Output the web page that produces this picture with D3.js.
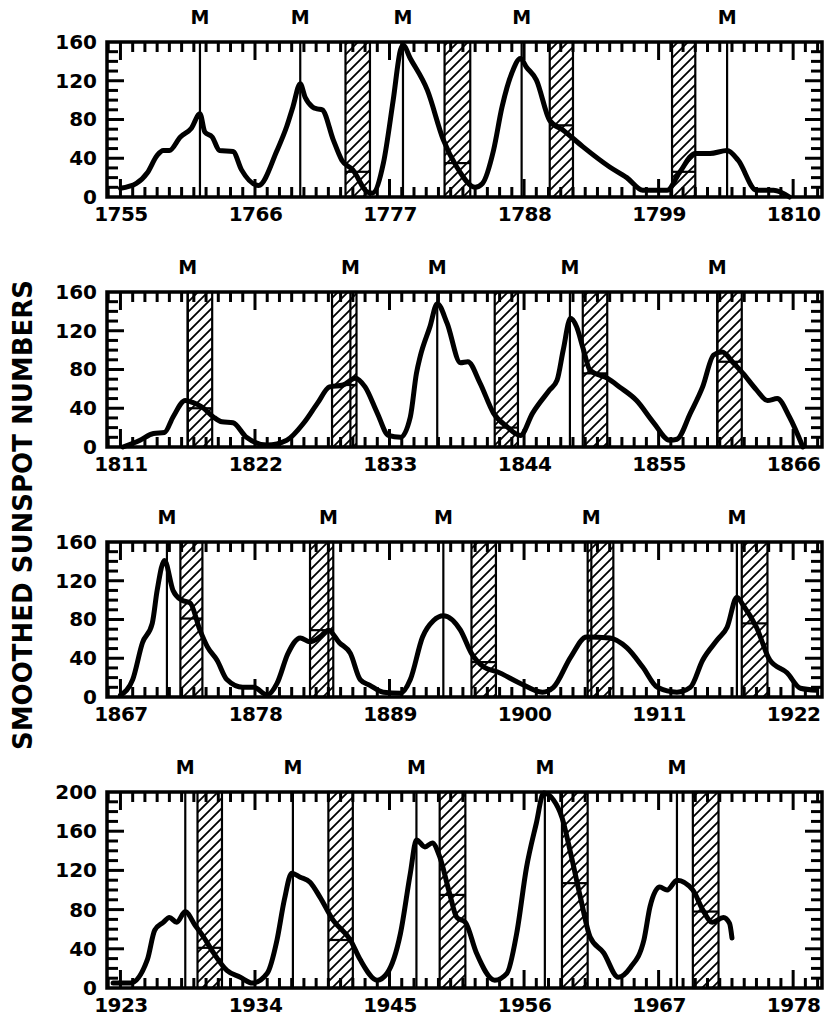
<!DOCTYPE html>
<html>
<head>
<meta charset="utf-8">
<script src="https://cdn.jsdelivr.net/npm/d3@7"></script>
<style>
  body { margin: 0; background: #fff; }
  text { font-family: "DejaVu Sans", sans-serif; font-weight: bold; fill: #000; }
</style>
</head>
<body>
<div id="app"></div>
<script>
// ---- data ----
const panelStarts = [1755, 1811, 1867, 1923];
const yTopValues = [160, 160, 160, 200];

const ssn1755 = [[1755.0,9],[1756.3,14],[1757.2,25],[1758.0,43],[1758.5,48],[1759.0,48],[1759.9,62],[1760.8,71],[1761.5,86],[1761.9,67],[1762.5,62],[1763.1,48],[1764.2,47],[1764.9,28],[1766.3,12],[1767.8,48],[1768.6,73],[1769.1,93],[1769.7,117],[1770.1,103],[1770.7,93],[1771.1,91],[1771.5,90],[1772.4,59],[1773.1,38],[1774.0,28],[1775.2,5],[1775.6,4],[1776.5,35],[1777.3,100],[1777.9,152],[1778.1,157],[1778.7,143],[1780.1,110],[1781.4,59],[1782.5,31],[1784.0,10],[1784.6,14],[1785.5,48],[1786.2,93],[1787.0,128],[1787.7,143],[1788.2,134],[1789.0,121],[1790.1,79],[1791.2,69],[1792.8,52],[1795.0,31],[1796.4,20],[1797.7,7],[1799.7,7],[1800.7,25],[1802.0,45],[1803.2,45],[1804.6,48],[1805.5,38],[1807.0,7],[1808.4,7],[1809.7,0]];
const ssn1811 = [[1811.2,0],[1812.6,7],[1813.7,14],[1814.6,15],[1815.3,31],[1816.3,48],[1816.9,46],[1817.7,41],[1818.6,31],[1819.3,26],[1820.2,25],[1821.3,10],[1823.0,2],[1824.6,7],[1826.0,25],[1827.1,45],[1828.1,62],[1829.2,64],[1830.2,71],[1831.0,62],[1832.0,35],[1832.9,12],[1833.9,10],[1834.7,31],[1835.2,76],[1835.5,93],[1836.3,124],[1836.9,148],[1837.7,128],[1838.8,87],[1839.4,88],[1840.4,66],[1841.5,35],[1842.6,21],[1843.7,12],[1844.7,35],[1846.1,59],[1846.7,69],[1847.2,100],[1847.8,133],[1848.3,124],[1848.8,103],[1849.4,79],[1850.8,71],[1851.8,62],[1853.2,48],[1854.6,25],[1855.9,7],[1856.5,8],[1857.6,35],[1858.6,62],[1859.5,95],[1860.2,98],[1861.1,87],[1861.9,76],[1863.0,59],[1863.9,48],[1864.7,50],[1865.7,31],[1866.8,0]];
const ssn1867 = [[1867.0,2],[1868.0,18],[1868.8,56],[1869.6,76],[1870.0,110],[1870.6,141],[1871.3,110],[1872.0,100],[1872.7,97],[1873.5,69],[1874.1,52],[1874.9,38],[1875.7,18],[1877.0,10],[1877.9,10],[1879.0,2],[1879.8,14],[1880.7,45],[1881.7,61],[1882.5,57],[1883.3,62],[1884.0,69],[1884.9,56],[1885.8,45],[1886.6,18],[1887.4,12],[1888.5,5],[1889.9,4],[1890.7,18],[1891.7,62],[1892.6,79],[1893.4,84],[1894.8,69],[1895.7,45],[1896.7,31],[1897.8,26],[1899.7,14],[1901.5,5],[1902.4,10],[1903.8,41],[1905.1,62],[1907.0,61],[1908.4,51],[1909.7,31],[1910.9,10],[1912.5,5],[1913.6,10],[1914.6,38],[1915.8,59],[1916.6,72],[1917.4,103],[1917.9,95],[1919.0,72],[1920.1,38],[1921.5,25],[1922.6,9],[1923.9,7]];
const ssn1923 = [[1922.4,5],[1923.8,5],[1925.2,29],[1925.8,59],[1926.5,67],[1927.0,72],[1927.6,67],[1928.3,78],[1929.1,64],[1929.8,52],[1930.6,36],[1931.7,18],[1932.8,11],[1933.8,5],[1935.0,15],[1935.8,49],[1936.4,90],[1937.0,117],[1937.7,113],[1938.5,108],[1939.3,93],[1940.4,69],[1941.8,49],[1942.6,29],[1944.0,8],[1944.8,15],[1945.9,56],[1946.7,117],[1947.2,151],[1947.9,144],[1948.5,148],[1949.1,134],[1949.9,97],[1950.5,72],[1951.2,67],[1952.1,36],[1953.6,8],[1954.6,15],[1955.4,56],[1956.2,123],[1957.0,168],[1957.6,199],[1958.4,192],[1959.1,174],[1959.8,138],[1960.6,93],[1961.4,52],[1962.5,36],[1963.7,11],[1964.7,21],[1965.8,49],[1966.3,83],[1967.1,103],[1967.7,100],[1968.5,110],[1969.8,100],[1970.6,80],[1971.4,67],[1972.3,72],[1972.8,66],[1973.0,51]];
const ssnSeries = [ssn1755, ssn1811, ssn1867, ssn1923];

// solar maxima (the "M" lines)
const maxima1755 = [1761.5, 1769.7, 1778.1, 1787.8, 1804.6];
const maxima1811 = [1816.5, 1829.8, 1836.9, 1847.75, 1859.8];
const maxima1867 = [1870.8, 1884.0, 1893.4, 1905.5, 1917.4];
const maxima1923 = [1928.3, 1937.1, 1947.2, 1957.7, 1968.5];
const maximaSeries = [maxima1755, maxima1811, maxima1867, maxima1923];

// hatched intervals: [from, to, level]
const bands1755 = [[1773.4,1775.4,26],[1781.5,1783.6,35],[1790.1,1792.0,74],[1800.1,1802.0,26]];
const bands1811 = [[1816.5,1818.5,40],[1828.3,1830.3,64],[1841.6,1843.5,20],[1848.8,1850.8,76],[1859.8,1861.8,88]];
const bands1867 = [[1871.9,1873.7,81],[1882.5,1884.4,69],[1895.7,1897.7,36],[1905.2,1907.3,62],[1917.8,1919.9,76]];
const bands1923 = [[1929.3,1931.3,41],[1940.0,1942.0,49],[1949.1,1951.2,95],[1959.1,1961.2,107],[1969.8,1971.9,78]];
const bandSeries = [bands1755, bands1811, bands1867, bands1923];

// ---- layout ----
const width = 829, height = 1028;
const left = 107, right = 822;
const panelTops = [42, 292, 542, 792];
const panelHeights = [155, 155, 155, 196];

const svg = d3.select("#app").append("svg")
    .attr("width", width)
    .attr("height", height);

svg.append("defs").append("pattern")
    .attr("id", "hatch")
    .attr("patternUnits", "userSpaceOnUse")
    .attr("width", 10).attr("height", 10)
    .append("path")
    .attr("d", "M-2,2 L2,-2 M0,10 L10,0 M8,12 L12,8")
    .attr("stroke", "#000")
    .attr("stroke-width", 1.8);

const line = d3.line().curve(d3.curveMonotoneX);

panelStarts.forEach((start, i) => {
    const top = panelTops[i];
    const bottom = top + panelHeights[i];
    const x = d3.scaleLinear().domain([start - 1.1, start + 57.36]).range([left, right]);
    const y = d3.scaleLinear().domain([0, yTopValues[i]]).range([bottom, top]);
    const g = svg.append("g");

    // hatched intervals
    const bands = g.selectAll(".band").data(bandSeries[i]).enter().append("g");
    bands.append("rect")
        .attr("x", d => x(d[0])).attr("y", top)
        .attr("width", d => x(d[1]) - x(d[0])).attr("height", bottom - top)
        .attr("fill", "url(#hatch)")
        .attr("stroke", "#000").attr("stroke-width", 2.2);
    bands.append("line")
        .attr("x1", d => x(d[0])).attr("x2", d => x(d[1]))
        .attr("y1", d => y(d[2])).attr("y2", d => y(d[2]))
        .attr("stroke", "#000").attr("stroke-width", 2.2);

    // maxima lines + labels
    g.selectAll(".max").data(maximaSeries[i]).enter().append("line")
        .attr("x1", d => x(d)).attr("x2", d => x(d))
        .attr("y1", top).attr("y2", bottom)
        .attr("stroke", "#000").attr("stroke-width", 2.2);
    g.selectAll(".mlab").data(maximaSeries[i]).enter().append("text")
        .attr("x", d => x(d)).attr("y", top - 18)
        .attr("text-anchor", "middle")
        .attr("font-size", 19)
        .text("M");

    // sunspot curve
    g.append("path")
        .datum(ssnSeries[i])
        .attr("fill", "none")
        .attr("stroke", "#000")
        .attr("stroke-width", 5)
        .attr("stroke-linejoin", "round")
        .attr("stroke-linecap", "round")
        .attr("d", line.x(d => x(d[0])).y(d => y(d[1])));

    // inward ticks: every year, longer at labelled years; every 10 on y, longer every 40
    const years = d3.range(start - 1, start + 58);
    const labelYears = d3.range(start, start + 56, 11);
    const yMinor = d3.range(10, yTopValues[i], 10);
    const yMajor = d3.range(0, yTopValues[i] + 1, 40);
    const tickLen = d => labelYears.includes(d) ? 18 : 10;
    const yTickLen = d => d % 40 === 0 ? 17 : 11;

    const ticks = g.append("g").attr("stroke", "#000").attr("stroke-width", 3);
    [[top, 1], [bottom, -1]].forEach(([y0, dir]) => {
        ticks.selectAll(null).data(years).enter().append("line")
            .attr("x1", d => x(d)).attr("x2", d => x(d))
            .attr("y1", y0).attr("y2", d => y0 + dir * tickLen(d));
    });
    [[left, 1], [right, -1]].forEach(([x0, dir]) => {
        ticks.selectAll(null).data(yMinor).enter().append("line")
            .attr("y1", d => y(d)).attr("y2", d => y(d))
            .attr("x1", x0).attr("x2", d => x0 + dir * yTickLen(d));
    });

    // labels via axes
    const styleAxis = (sel, size) => {
        sel.select(".domain").remove();
        sel.selectAll("line").remove();
        sel.selectAll("text")
            .attr("font-size", size)
            .attr("font-family", "DejaVu Sans")
            .attr("font-weight", "bold")
            .attr("fill", "#000");
    };
    g.append("g").attr("transform", `translate(0,${bottom})`)
        .call(d3.axisBottom(x).tickValues(labelYears).tickSize(0).tickPadding(10).tickFormat(d3.format("d")))
        .call(styleAxis, 20)
        .selectAll("text").attr("letter-spacing", -0.5);
    g.append("g").attr("transform", `translate(${left},0)`)
        .call(d3.axisLeft(y).tickValues(yMajor).tickSize(0).tickPadding(10))
        .call(styleAxis, 20);

    // frame
    g.append("rect")
        .attr("x", left).attr("y", top)
        .attr("width", right - left).attr("height", bottom - top)
        .attr("fill", "none")
        .attr("stroke", "#000").attr("stroke-width", 3.5);
});

svg.append("text")
    .attr("transform", "translate(32,515) rotate(-90)")
    .attr("text-anchor", "middle")
    .attr("font-size", 26)
    .text("SMOOTHED SUNSPOT NUMBERS");
</script>
</body>
</html>
